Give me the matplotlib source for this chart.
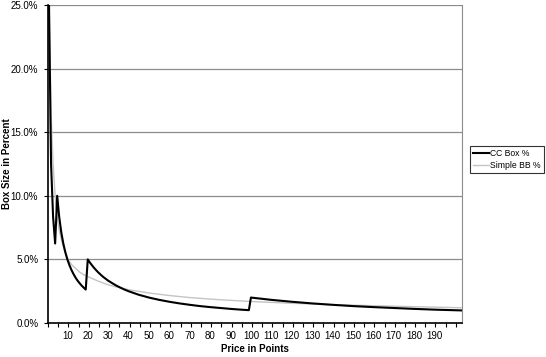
import matplotlib
matplotlib.use("Agg")
import matplotlib.pyplot as plt
from matplotlib.ticker import FixedLocator, FuncFormatter

plt.rcParams['font.family'] = ['Liberation Sans', 'DejaVu Sans']

# CC box size (percent), by price in points
cc_x = [1, 2, 3, 4, 5, 6, 7, 8, 9, 10, 11, 12, 13, 14, 15, 16, 17, 18, 19,
        20, 21, 22, 23, 24, 25, 26, 27, 28, 29, 30, 32, 34, 36, 38, 40,
        45, 50, 55, 60, 65, 70, 75, 80, 85, 90, 95, 99,
        100, 110, 120, 130, 140, 150, 160, 170, 180, 190, 203]
cc_y = [25.0, 12.5, 8.33, 6.25, 10.0, 8.33, 7.14, 6.25, 5.56, 5.0, 4.55, 4.17, 3.85, 3.57, 3.33, 3.13, 2.94, 2.78, 2.63,
        5.0, 4.76, 4.55, 4.35, 4.17, 4.0, 3.85, 3.70, 3.57, 3.45, 3.33, 3.13, 2.94, 2.78, 2.63, 2.5,
        2.22, 2.0, 1.82, 1.67, 1.54, 1.43, 1.33, 1.25, 1.18, 1.11, 1.05, 1.01,
        2.0, 1.82, 1.67, 1.54, 1.43, 1.33, 1.25, 1.18, 1.11, 1.05, 0.99]

# Simple BB (percent)
bb_x = [1, 2, 3, 4, 5, 6, 7, 8, 9, 10, 12, 14, 16, 18, 20, 25, 30, 35, 40,
        50, 60, 70, 80, 90, 100, 120, 140, 160, 180, 203]
bb_y = [25.0, 16.5, 12.5, 10.0, 8.3, 7.3, 6.6, 6.0, 5.5, 5.1, 4.6, 4.3, 4.0, 3.8, 3.65, 3.3, 3.0, 2.8, 2.62,
        2.36, 2.16, 2.0, 1.88, 1.78, 1.69, 1.55, 1.44, 1.36, 1.28, 1.2]

x_labels = list(range(10, 200, 10))
y_ticks = [0, 5, 10, 15, 20, 25]

fig = plt.figure(figsize=(5.46, 3.57), dpi=100)
ax = fig.add_axes([48 / 546, 1 - 323 / 357, (462 - 48) / 546, (323 - 5) / 357])

ax.set_ylim(0, 25)
ax.set_xlim(0.5, 203.5)

for y in y_ticks[1:]:
    ax.axhline(y, color='#8c8c8c', linewidth=0.9, zorder=1)

ax.plot(bb_x, bb_y, color='#c4c4c4', linewidth=1.0, zorder=2, label='Simple BB %')
ax.plot(cc_x, cc_y, color='black', linewidth=1.5, zorder=3, label='CC Box %')

ax.yaxis.set_major_locator(FixedLocator(y_ticks))
ax.yaxis.set_major_formatter(FuncFormatter(lambda v, p: f"{v:.1f}%"))
ax.xaxis.set_major_locator(FixedLocator(x_labels))
ax.xaxis.set_minor_locator(FixedLocator([v + 0.5 for v in range(0, 204, 5)]))
ax.tick_params(axis='x', which='major', length=0, labelsize=7, pad=6)
ax.tick_params(axis='x', which='minor', length=3, width=0.8, direction='out')
ax.tick_params(axis='y', length=3, width=0.8, labelsize=7, pad=4)

for s in ['left', 'bottom']:
    ax.spines[s].set_linewidth(1.2)
    ax.spines[s].set_color('black')
ax.spines['right'].set_color('#8c8c8c')
ax.spines['top'].set_visible(False)

ax.set_xlabel('Price in Points', fontsize=7, fontweight='bold', labelpad=2)
ax.set_ylabel('Box Size in Percent', fontsize=7, fontweight='bold')
ax.yaxis.set_label_coords(-0.088, 0.5)

handles, labels = ax.get_legend_handles_labels()
leg = fig.legend(handles[::-1], labels[::-1], loc='lower left',
                 bbox_to_anchor=(470 / 546, 1 - 173 / 357), fontsize=6.2,
                 frameon=True, fancybox=False, handlelength=1.8, handletextpad=0.2,
                 borderpad=0.35, labelspacing=0.3, borderaxespad=0)
leg.get_frame().set_edgecolor('black')
leg.get_frame().set_linewidth(0.8)

fig.savefig('out.png', dpi=100)
